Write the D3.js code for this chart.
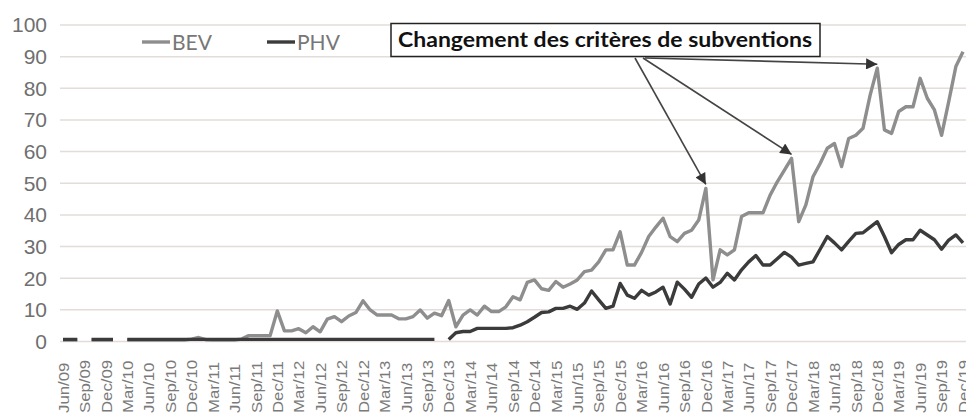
<!DOCTYPE html>
<html>
<head>
<meta charset="utf-8">
<script src="https://cdn.jsdelivr.net/npm/d3@7"></script>
<style>
  body { margin: 0; background: #fff; }
  svg { display: block; font-family: Lato, "Open Sans", sans-serif; }
</style>
</head>
<body>
<svg id="chart" width="966" height="414"></svg>
<script>
// quarterly tick labels, one every 3 months from Jun/09
const tickLabels = ['Jun/09','Sep/09','Dec/09','Mar/10','Jun/10','Sep/10','Dec/10','Mar/11',
  'Jun/11','Sep/11','Dec/11','Mar/12','Jun/12','Sep/12','Dec/12','Mar/13','Jun/13','Sep/13',
  'Dec/13','Mar/14','Jun/14','Sep/14','Dec/14','Mar/15','Jun/15','Sep/15','Dec/15','Mar/16',
  'Jun/16','Sep/16','Dec/16','Mar/17','Jun/17','Sep/17','Dec/17','Mar/18','Jun/18','Sep/18',
  'Dec/18','Mar/19','Jun/19','Sep/19','Dec/19'];

const yTicks = [0,10,20,30,40,50,60,70,80,90,100];

// monthly values, Jun 2009 -> Dec 2019 (null = no data)
const bev = [
  0.3,0.3,0.3,null,0.3,0.3,0.3,0.3,null,0.3,
  0.3,0.3,0.3,0.3,0.3,0.3,0.3,0.3,0.6,1.1,
  0.4,0.3,0.3,0.3,0.3,0.6,1.7,1.7,1.7,1.7,
  9.5,3.2,3.2,3.9,2.6,4.5,2.9,6.9,7.7,6.1,
  7.9,9,12.7,9.8,8.2,8.2,8.2,7,7,7.7,
  9.8,7.2,8.8,8,12.8,4.5,8.2,9.8,8.2,11,
  9.3,9.3,10.8,14,13,18.5,19.3,16.5,16,18.8,
  17,18,19.3,21.9,22.4,25,28.8,28.8,34.5,24,
  24,28,33,36,38.8,33,31.4,34,35,38.2,
  48.2,19.3,28.8,27.2,28.8,39.3,40.5,40.5,40.5,46.1,
  50.3,54,57.7,37.7,43,51.9,56.1,60.9,62.4,55.1,
  64,65,67.2,77.7,86.2,66.7,65.6,72.5,74,74,
  83,76.7,73,65,75.6,86.7,91.4
];
const phv = [
  0.5,0.5,0.5,null,0.5,0.5,0.5,0.5,null,0.5,
  0.5,0.5,0.5,0.5,0.5,0.5,0.5,0.5,0.5,0.5,
  0.5,0.5,0.5,0.5,0.5,0.5,0.5,0.5,0.5,0.5,
  0.5,0.5,0.5,0.5,0.5,0.5,0.5,0.5,0.5,0.5,
  0.5,0.5,0.5,0.5,0.5,0.5,0.5,0.5,0.5,0.5,
  0.5,0.5,0.5,null,0.5,2.6,3,3,4,4,
  4,4,4,4.2,5,6.1,7.5,9,9.2,10.3,
  10.3,11,10,12,15.8,13,10.3,11,18.2,14.5,
  13.5,16,14.5,15.5,17,11.7,18.6,16.4,13.8,18,
  19.9,17,18.5,21.4,19.3,22.5,25,27,24,24,
  26,28,26.5,24,24.5,25,29,33,31,28.8,
  31.5,34,34.2,36,37.7,33,27.9,30.5,32,32,
  35,33.5,32,29,31.9,33.5,31
];

// months pointed at by the annotation arrows (Dec/16, Dec/17, Dec/18)
const arrowMonths = [90, 102, 114];
const noteText = 'Changement des critères de subventions';

const svg = d3.select('#chart');
const x = d3.scaleLinear().domain([0, bev.length - 1]).range([63, 963]);
const y = d3.scaleLinear().domain([0, 100]).range([341, 24.5]);

// y axis + gridlines
const yAxis = svg.append('g')
  .attr('transform', 'translate(60,0)')
  .call(d3.axisLeft(y).tickValues(yTicks).tickSize(-906).tickPadding(13));
yAxis.select('.domain').remove();
yAxis.selectAll('line').attr('stroke', '#e4dcd8').attr('stroke-width', 1.5);
yAxis.selectAll('text')
  .attr('fill', '#6f6f6f')
  .attr('font-size', 21)
  .attr('dy', '0.35em');

// x axis labels, rotated
const xAxis = svg.append('g')
  .call(d3.axisBottom(x)
    .tickValues(tickLabels.map((d, i) => i * 3))
    .tickFormat((d, i) => tickLabels[i])
    .tickSize(0));
xAxis.select('.domain').remove();
xAxis.selectAll('text')
  .attr('fill', '#7a7a7a')
  .attr('font-size', 15)
  .attr('text-anchor', 'start')
  .attr('y', 0).attr('dy', '0.35em')
  .attr('transform', 'translate(0,413) rotate(-90) scale(1.12,1)');

const line = d3.line()
  .defined(d => d != null)
  .x((d, i) => x(i))
  .y(d => y(d));

svg.append('path')
  .datum(bev)
  .attr('d', line)
  .attr('fill', 'none')
  .attr('stroke', '#8e8e8e')
  .attr('stroke-width', 3.4)
  .attr('stroke-linejoin', 'round');

svg.append('path')
  .datum(phv)
  .attr('d', line)
  .attr('fill', 'none')
  .attr('stroke', '#3b3b3b')
  .attr('stroke-width', 3.4)
  .attr('stroke-linejoin', 'round');

// legend
const legend = [{name: 'BEV', color: '#8e8e8e', x: 142}, {name: 'PHV', color: '#3b3b3b', x: 267}];
legend.forEach(d => {
  svg.append('line')
    .attr('x1', d.x).attr('x2', d.x + 28)
    .attr('y1', 42).attr('y2', 42)
    .attr('stroke', d.color).attr('stroke-width', 3.4);
  svg.append('text')
    .attr('x', d.x + 30).attr('y', 50)
    .attr('font-size', 21)
    .attr('fill', '#777')
    .text(d.name);
});

// annotation box and arrows
svg.append('defs').append('marker')
  .attr('id', 'head')
  .attr('viewBox', '0 0 10 10')
  .attr('refX', 10).attr('refY', 5)
  .attr('markerWidth', 8).attr('markerHeight', 7)
  .attr('orient', 'auto')
  .append('path')
  .attr('d', 'M0,0L10,5L0,10Z')
  .attr('fill', '#333');

const starts = [[635, 58], [643, 58], [645, 58]];
arrowMonths.forEach((m, i) => {
  svg.append('line')
    .attr('x1', starts[i][0]).attr('y1', starts[i][1])
    .attr('x2', x(m)).attr('y2', y(bev[m]) - 4)
    .attr('stroke', '#444')
    .attr('stroke-width', 1.6)
    .attr('marker-end', 'url(#head)');
});

svg.append('rect')
  .attr('x', 391).attr('y', 23.5)
  .attr('width', 429).attr('height', 33)
  .attr('fill', '#fff')
  .attr('stroke', '#222')
  .attr('stroke-width', 1.5);

svg.append('text')
  .attr('x', 398).attr('y', 47)
  .attr('font-size', 20)
  .attr('font-weight', 'bold')
  .attr('fill', '#111')
  .attr('textLength', 414)
  .attr('lengthAdjust', 'spacingAndGlyphs')
  .text(noteText);
</script>
</body>
</html>
